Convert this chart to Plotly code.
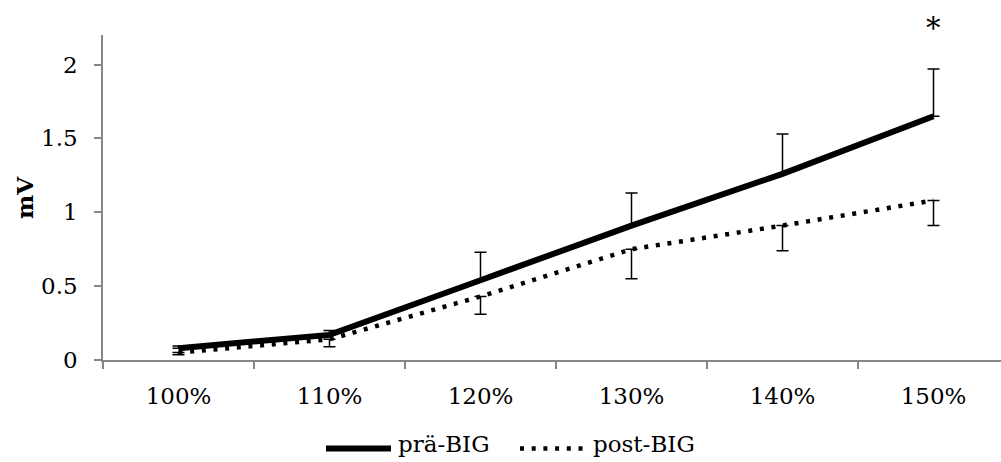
import plotly.graph_objects as go

# Stimulus intensity categories
categories = ["100%", "110%", "120%", "130%", "140%", "150%"]

# Mean amplitudes (mV) and their errors
pre_values = [0.08, 0.17, 0.54, 0.91, 1.26, 1.65]
pre_errors = [0.015, 0.03, 0.19, 0.22, 0.27, 0.32]
post_values = [0.05, 0.14, 0.43, 0.75, 0.91, 1.08]
post_errors = [0.015, 0.05, 0.12, 0.20, 0.17, 0.17]

series_names = ["prä-BIG", "post-BIG"]
y_ticks = [0, 0.5, 1, 1.5, 2]
y_labels = ["0", "0.5", "1", "1.5", "2"]

FONT = "DejaVu Serif"
FS = 23
AXIS_GREY = "#868686"
zeros = [0] * len(categories)

fig = go.Figure()

fig.add_trace(go.Scatter(
    x=categories, y=pre_values, mode="lines", name=series_names[0],
    line=dict(color="black", width=6),
    error_y=dict(type="data", symmetric=False, array=pre_errors, arrayminus=zeros,
                 color="black", thickness=1.5, width=6),
    showlegend=False,
))
fig.add_trace(go.Scatter(
    x=categories, y=post_values, mode="lines", name=series_names[1],
    line=dict(color="black", width=4.5, dash="4px,7.7px"),
    error_y=dict(type="data", symmetric=False, array=zeros, arrayminus=post_errors,
                 color="black", thickness=1.5, width=6),
    showlegend=False,
))

# Significance marker above the last category
fig.add_annotation(x=categories[-1], y=1.02, xref="x", yref="paper", text="*",
                   showarrow=False, font=dict(family=FONT, size=29, color="black"),
                   xanchor="center", yanchor="middle")

# Y axis title
fig.add_annotation(x=-0.0874, y=0.5, xref="paper", yref="paper", text="<b>mV</b>",
                   textangle=-90, showarrow=False, xanchor="center", yanchor="middle",
                   font=dict(family=FONT, size=FS, color="black"))

# Legend drawn below the plot
leg_y = -0.2724
txt_y = -0.306
def px_x(p):
    return (p - 103) / 898.0

fig.add_shape(type="line", xref="paper", yref="paper",
              x0=px_x(326), x1=px_x(391), y0=leg_y, y1=leg_y,
              line=dict(color="black", width=6))
fig.add_annotation(x=px_x(396), y=txt_y, xref="paper", yref="paper",
                   text=series_names[0], showarrow=False, xanchor="left",
                   font=dict(family=FONT, size=FS, color="black"))
fig.add_shape(type="line", xref="paper", yref="paper",
              x0=px_x(520), x1=px_x(584), y0=leg_y, y1=leg_y,
              line=dict(color="black", width=4.5, dash="4px,7.7px"))
fig.add_annotation(x=px_x(591), y=txt_y, xref="paper", yref="paper",
                   text=series_names[1], showarrow=False, xanchor="left",
                   font=dict(family=FONT, size=FS, color="black"))

fig.update_layout(
    width=1001, height=462,
    margin=dict(l=103, r=0, t=35, b=102, pad=0),
    paper_bgcolor="white", plot_bgcolor="white",
    showlegend=False,
    font=dict(family=FONT, size=FS, color="black"),
)
fig.update_xaxes(
    type="category", categoryorder="array", categoryarray=categories,
    range=[-0.5, 5.447], tickson="boundaries",
    showline=True, linecolor=AXIS_GREY, linewidth=1.5,
    ticks="outside", ticklen=7, tickcolor=AXIS_GREY, tickwidth=1.5,
    showgrid=False, zeroline=False, ticklabelstandoff=15,
    tickfont=dict(family=FONT, size=FS, color="black"),
)
fig.update_yaxes(
    range=[0, 2.2], tickvals=y_ticks, ticktext=y_labels,
    showline=True, linecolor=AXIS_GREY, linewidth=1.5,
    ticks="outside", ticklen=7, tickcolor=AXIS_GREY, tickwidth=1.5,
    showgrid=False, zeroline=False, ticklabelstandoff=12,
    tickfont=dict(family=FONT, size=FS, color="black"),
)

fig.write_html("out.html")
